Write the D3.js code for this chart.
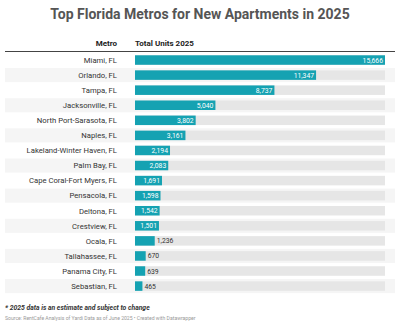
<!DOCTYPE html>
<html>
<head>
<meta charset="utf-8">
<script src="https://cdn.jsdelivr.net/npm/d3@7"></script>
<style>
  body { margin: 0; background: #fff; font-family: Roboto, "Noto Sans", sans-serif; }
</style>
</head>
<body>
<div id="chart"></div>
<script>
var metros = ["Miami, FL", "Orlando, FL", "Tampa, FL", "Jacksonville, FL", "North Port-Sarasota, FL",
  "Naples, FL", "Lakeland-Winter Haven, FL", "Palm Bay, FL", "Cape Coral-Fort Myers, FL",
  "Pensacola, FL", "Deltona, FL", "Crestview, FL", "Ocala, FL", "Tallahassee, FL",
  "Panama City, FL", "Sebastian, FL"];
var units = [15666, 11347, 8737, 5040, 3802, 3161, 2194, 2083, 1691, 1598, 1542, 1501, 1236, 670, 639, 465];

var W = 400, H = 327;
var barLeft = 135, barRight = 385, rowTop = 52.5, rowH = 15.07;

var svg = d3.select("#chart").append("svg")
  .attr("width", W).attr("height", H);

svg.append("text")
  .attr("x", W / 2).attr("y", 18.5)
  .attr("text-anchor", "middle")
  .attr("font-size", 14).attr("font-weight", 700)
  .attr("fill", "#555")
  .text("Top Florida Metros for New Apartments in 2025");

// column headers
svg.append("text").attr("x", 117).attr("y", 45.5)
  .attr("text-anchor", "end").attr("font-size", 8).attr("font-weight", 700).attr("fill", "#222")
  .text("Metro");
svg.append("text").attr("x", barLeft).attr("y", 45.5)
  .attr("font-size", 8).attr("font-weight", 700).attr("fill", "#222")
  .text("Total Units 2025");

var x = d3.scaleLinear().domain([0, d3.max(units)]).range([barLeft, barRight]);
var y = d3.scaleBand().domain(metros).range([rowTop, rowTop + rowH * metros.length]).paddingInner(0);

var rows = svg.selectAll("g.row").data(metros).enter().append("g")
  .attr("class", "row")
  .attr("transform", function(d) { return "translate(0," + y(d) + ")"; });

// striped rows
rows.filter(function(d, i) { return i % 2 === 1; })
  .append("rect")
  .attr("x", 5).attr("y", 0.5)
  .attr("width", 390).attr("height", y.bandwidth() - 1)
  .attr("fill", "#f5f5f5");

rows.append("text")
  .attr("x", 117).attr("y", y.bandwidth() / 2 + 2.8)
  .attr("text-anchor", "end").attr("font-size", 7.7).attr("fill", "#333")
  .text(function(d) { return d; });

var bh = 9.5, by = (y.bandwidth() - bh) / 2;

rows.append("rect")
  .attr("x", barLeft).attr("y", by)
  .attr("width", barRight - barLeft).attr("height", bh)
  .attr("fill", "#e6e6e6");

rows.append("rect")
  .attr("x", barLeft).attr("y", by)
  .attr("width", function(d, i) { return x(units[i]) - barLeft; })
  .attr("height", bh)
  .attr("fill", "#15a2b2");

var fmt = d3.format(",");
rows.append("text")
  .attr("y", y.bandwidth() / 2 + 2.5)
  .attr("font-size", 6.8)
  .each(function(d, i) {
    var v = units[i], w = x(v) - barLeft;
    var t = d3.select(this).text(fmt(v));
    if (w > 22) {
      t.attr("x", x(v) - 2).attr("text-anchor", "end").attr("fill", "#fff");
    } else {
      t.attr("x", x(v) + 2).attr("text-anchor", "start").attr("fill", "#333");
    }
  });

// header rule
svg.append("line")
  .attr("x1", 5).attr("x2", 395).attr("y1", 51.5).attr("y2", 51.5)
  .attr("stroke", "#444").attr("stroke-width", 1.2);

svg.append("text").attr("x", 5).attr("y", 309.5)
  .attr("font-size", 6.8).attr("font-weight", 700).attr("font-style", "italic").attr("fill", "#333")
  .text("* 2025 data is an estimate and subject to change");

svg.append("text").attr("x", 5).attr("y", 320)
  .attr("font-size", 5.1).attr("fill", "#999")
  .text("Source: RentCafe Analysis of Yardi Data as of June 2025 \u2022 Created with Datawrapper");
</script>
</body>
</html>
